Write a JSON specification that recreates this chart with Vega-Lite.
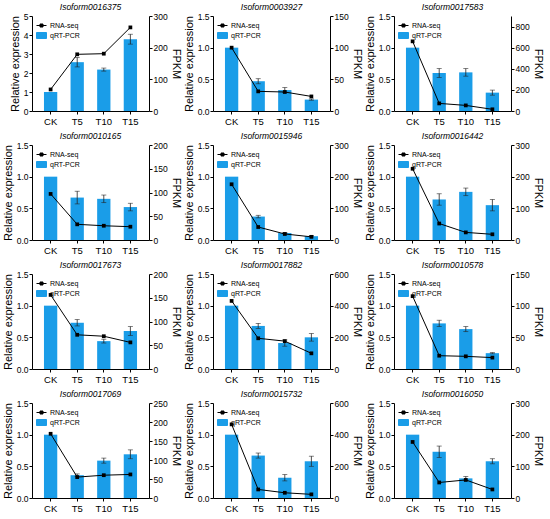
{
"$schema": "https://vega.github.io/schema/vega-lite/v6.json",
"padding": {"left": 2, "top": 2, "right": 0, "bottom": 0},
"data": {"values": [
{"g":"Isoform0016375","t":"CK","rel":1.0,"sd":0,"fpkm":68},
{"g":"Isoform0016375","t":"T5","rel":2.57,"sd":0.25,"fpkm":179},
{"g":"Isoform0016375","t":"T10","rel":2.18,"sd":0.08,"fpkm":181},
{"g":"Isoform0016375","t":"T15","rel":3.78,"sd":0.26,"fpkm":264},
{"g":"Isoform0003927","t":"CK","rel":1.0,"sd":0,"fpkm":100},
{"g":"Isoform0003927","t":"T5","rel":0.47,"sd":0.04,"fpkm":31},
{"g":"Isoform0003927","t":"T10","rel":0.33,"sd":0.04,"fpkm":30},
{"g":"Isoform0003927","t":"T15","rel":0.18,"sd":0.01,"fpkm":23},
{"g":"Isoform0017583","t":"CK","rel":1.0,"sd":0,"fpkm":660},
{"g":"Isoform0017583","t":"T5","rel":0.6,"sd":0.07,"fpkm":72},
{"g":"Isoform0017583","t":"T10","rel":0.61,"sd":0.06,"fpkm":53},
{"g":"Isoform0017583","t":"T15","rel":0.29,"sd":0.04,"fpkm":16},
{"g":"Isoform0010165","t":"CK","rel":1.0,"sd":0,"fpkm":97},
{"g":"Isoform0010165","t":"T5","rel":0.67,"sd":0.1,"fpkm":33},
{"g":"Isoform0010165","t":"T10","rel":0.65,"sd":0.06,"fpkm":30},
{"g":"Isoform0010165","t":"T15","rel":0.52,"sd":0.06,"fpkm":28},
{"g":"Isoform0015946","t":"CK","rel":1.0,"sd":0,"fpkm":176},
{"g":"Isoform0015946","t":"T5","rel":0.37,"sd":0.02,"fpkm":41},
{"g":"Isoform0015946","t":"T10","rel":0.11,"sd":0.01,"fpkm":19},
{"g":"Isoform0015946","t":"T15","rel":0.06,"sd":0.01,"fpkm":10},
{"g":"Isoform0016442","t":"CK","rel":1.0,"sd":0,"fpkm":225},
{"g":"Isoform0016442","t":"T5","rel":0.64,"sd":0.09,"fpkm":52},
{"g":"Isoform0016442","t":"T10","rel":0.76,"sd":0.06,"fpkm":24},
{"g":"Isoform0016442","t":"T15","rel":0.55,"sd":0.09,"fpkm":18},
{"g":"Isoform0017673","t":"CK","rel":1.0,"sd":0,"fpkm":156},
{"g":"Isoform0017673","t":"T5","rel":0.73,"sd":0.05,"fpkm":72},
{"g":"Isoform0017673","t":"T10","rel":0.44,"sd":0.03,"fpkm":69},
{"g":"Isoform0017673","t":"T15","rel":0.6,"sd":0.07,"fpkm":56},
{"g":"Isoform0017882","t":"CK","rel":1.0,"sd":0,"fpkm":430},
{"g":"Isoform0017882","t":"T5","rel":0.68,"sd":0.04,"fpkm":194},
{"g":"Isoform0017882","t":"T10","rel":0.41,"sd":0.05,"fpkm":176},
{"g":"Isoform0017882","t":"T15","rel":0.5,"sd":0.06,"fpkm":99},
{"g":"Isoform0010578","t":"CK","rel":1.0,"sd":0,"fpkm":115},
{"g":"Isoform0010578","t":"T5","rel":0.72,"sd":0.05,"fpkm":21},
{"g":"Isoform0010578","t":"T10","rel":0.63,"sd":0.04,"fpkm":20},
{"g":"Isoform0010578","t":"T15","rel":0.25,"sd":0.01,"fpkm":18},
{"g":"Isoform0017069","t":"CK","rel":1.0,"sd":0,"fpkm":169},
{"g":"Isoform0017069","t":"T5","rel":0.36,"sd":0.02,"fpkm":55},
{"g":"Isoform0017069","t":"T10","rel":0.59,"sd":0.04,"fpkm":60},
{"g":"Isoform0017069","t":"T15","rel":0.69,"sd":0.07,"fpkm":62},
{"g":"Isoform0015732","t":"CK","rel":1.0,"sd":0,"fpkm":465},
{"g":"Isoform0015732","t":"T5","rel":0.67,"sd":0.04,"fpkm":54},
{"g":"Isoform0015732","t":"T10","rel":0.32,"sd":0.05,"fpkm":33},
{"g":"Isoform0015732","t":"T15","rel":0.58,"sd":0.08,"fpkm":23},
{"g":"Isoform0016050","t":"CK","rel":1.0,"sd":0,"fpkm":177},
{"g":"Isoform0016050","t":"T5","rel":0.73,"sd":0.09,"fpkm":49},
{"g":"Isoform0016050","t":"T10","rel":0.31,"sd":0.03,"fpkm":57},
{"g":"Isoform0016050","t":"T15","rel":0.58,"sd":0.04,"fpkm":27}
]},
"columns": 3,
"spacing": {"column": 1, "row": 5},
"resolve": {"scale": {"color": "independent"}, "legend": {"color": "independent"}},
"concat": [
{"title":"Isoform0016375","width":117,"height":95,"transform":[{"filter":"datum.g === 'Isoform0016375'"}],"resolve":{"scale":{"y":"independent"}},
"layer":[
 {"layer":[
  {"mark":{"type":"bar","color":"#1a9de8"},"encoding":{"x":{"field":"t","type":"nominal","sort":["CK","T5","T10","T15"],"scale":{"paddingInner":0.5,"paddingOuter":0.45}},"y":{"field":"rel","type":"quantitative","title":"Relative expression","scale":{"domain":[0,5]},"axis":{"values":[0,1,2,3,4,5],"format":"d"}},"color":{"datum":"qRT-PCR","scale":{"domain":["RNA-seq","qRT-PCR"],"range":["#000000","#1a9de8"]},"legend":{"encode":{"symbols":{"update":{"shape":[{"test":"datum.value === 'RNA-seq'","value":"M-1,0H1M-0.3,-0.3H0.3V0.3H-0.3Z"},{"value":"M-1,-0.6H1V0.6H-1Z"}],"fill":[{"test":"datum.value === 'RNA-seq'","value":"#000000"},{"value":"#1a9de8"}],"stroke":[{"test":"datum.value === 'RNA-seq'","value":"#000000"},{"value":"#1a9de8"}],"strokeWidth":{"value":1}}}}}}}},
  {"transform":[{"filter":"datum.sd > 0"}],"mark":{"type":"errorbar","ticks":{"size":5},"color":"#222","thickness":0.8},"encoding":{"x":{"field":"t","type":"nominal","sort":["CK","T5","T10","T15"]},"y":{"field":"rel","type":"quantitative","title":"Relative expression","scale":{"domain":[0,5]},"axis":{"values":[0,1,2,3,4,5],"format":"d"}},"yError":{"field":"sd"}}}
 ]},
 {"mark":{"type":"line","strokeWidth":1,"point":{"shape":"square","size":14,"filled":true}},"encoding":{"x":{"field":"t","type":"nominal","sort":["CK","T5","T10","T15"]},"y":{"field":"fpkm","type":"quantitative","title":"FPKM","scale":{"domain":[0,300]},"axis":{"orient":"right","values":[0,100,200,300]}},"color":{"datum":"RNA-seq","scale":{"domain":["RNA-seq","qRT-PCR"],"range":["#000000","#1a9de8"]}}}}
]},
{"title":"Isoform0003927","width":117,"height":95,"transform":[{"filter":"datum.g === 'Isoform0003927'"}],"resolve":{"scale":{"y":"independent"}},
"layer":[
 {"layer":[
  {"mark":{"type":"bar","color":"#1a9de8"},"encoding":{"x":{"field":"t","type":"nominal","sort":["CK","T5","T10","T15"],"scale":{"paddingInner":0.5,"paddingOuter":0.45}},"y":{"field":"rel","type":"quantitative","title":"Relative expression","scale":{"domain":[0,1.5]},"axis":{"values":[0,0.5,1,1.5],"format":".1f"}},"color":{"datum":"qRT-PCR","scale":{"domain":["RNA-seq","qRT-PCR"],"range":["#000000","#1a9de8"]},"legend":{"encode":{"symbols":{"update":{"shape":[{"test":"datum.value === 'RNA-seq'","value":"M-1,0H1M-0.3,-0.3H0.3V0.3H-0.3Z"},{"value":"M-1,-0.6H1V0.6H-1Z"}],"fill":[{"test":"datum.value === 'RNA-seq'","value":"#000000"},{"value":"#1a9de8"}],"stroke":[{"test":"datum.value === 'RNA-seq'","value":"#000000"},{"value":"#1a9de8"}],"strokeWidth":{"value":1}}}}}}}},
  {"transform":[{"filter":"datum.sd > 0"}],"mark":{"type":"errorbar","ticks":{"size":5},"color":"#222","thickness":0.8},"encoding":{"x":{"field":"t","type":"nominal","sort":["CK","T5","T10","T15"]},"y":{"field":"rel","type":"quantitative","title":"Relative expression","scale":{"domain":[0,1.5]},"axis":{"values":[0,0.5,1,1.5],"format":".1f"}},"yError":{"field":"sd"}}}
 ]},
 {"mark":{"type":"line","strokeWidth":1,"point":{"shape":"square","size":14,"filled":true}},"encoding":{"x":{"field":"t","type":"nominal","sort":["CK","T5","T10","T15"]},"y":{"field":"fpkm","type":"quantitative","title":"FPKM","scale":{"domain":[0,150]},"axis":{"orient":"right","values":[0,50,100,150]}},"color":{"datum":"RNA-seq","scale":{"domain":["RNA-seq","qRT-PCR"],"range":["#000000","#1a9de8"]}}}}
]},
{"title":"Isoform0017583","width":117,"height":95,"transform":[{"filter":"datum.g === 'Isoform0017583'"}],"resolve":{"scale":{"y":"independent"}},
"layer":[
 {"layer":[
  {"mark":{"type":"bar","color":"#1a9de8"},"encoding":{"x":{"field":"t","type":"nominal","sort":["CK","T5","T10","T15"],"scale":{"paddingInner":0.5,"paddingOuter":0.45}},"y":{"field":"rel","type":"quantitative","title":"Relative expression","scale":{"domain":[0,1.5]},"axis":{"values":[0,0.5,1,1.5],"format":".1f"}},"color":{"datum":"qRT-PCR","scale":{"domain":["RNA-seq","qRT-PCR"],"range":["#000000","#1a9de8"]},"legend":{"encode":{"symbols":{"update":{"shape":[{"test":"datum.value === 'RNA-seq'","value":"M-1,0H1M-0.3,-0.3H0.3V0.3H-0.3Z"},{"value":"M-1,-0.6H1V0.6H-1Z"}],"fill":[{"test":"datum.value === 'RNA-seq'","value":"#000000"},{"value":"#1a9de8"}],"stroke":[{"test":"datum.value === 'RNA-seq'","value":"#000000"},{"value":"#1a9de8"}],"strokeWidth":{"value":1}}}}}}}},
  {"transform":[{"filter":"datum.sd > 0"}],"mark":{"type":"errorbar","ticks":{"size":5},"color":"#222","thickness":0.8},"encoding":{"x":{"field":"t","type":"nominal","sort":["CK","T5","T10","T15"]},"y":{"field":"rel","type":"quantitative","title":"Relative expression","scale":{"domain":[0,1.5]},"axis":{"values":[0,0.5,1,1.5],"format":".1f"}},"yError":{"field":"sd"}}}
 ]},
 {"mark":{"type":"line","strokeWidth":1,"point":{"shape":"square","size":14,"filled":true}},"encoding":{"x":{"field":"t","type":"nominal","sort":["CK","T5","T10","T15"]},"y":{"field":"fpkm","type":"quantitative","title":"FPKM","scale":{"domain":[0,900]},"axis":{"orient":"right","values":[0,200,400,600,800]}},"color":{"datum":"RNA-seq","scale":{"domain":["RNA-seq","qRT-PCR"],"range":["#000000","#1a9de8"]}}}}
]},
{"title":"Isoform0010165","width":117,"height":95,"transform":[{"filter":"datum.g === 'Isoform0010165'"}],"resolve":{"scale":{"y":"independent"}},
"layer":[
 {"layer":[
  {"mark":{"type":"bar","color":"#1a9de8"},"encoding":{"x":{"field":"t","type":"nominal","sort":["CK","T5","T10","T15"],"scale":{"paddingInner":0.5,"paddingOuter":0.45}},"y":{"field":"rel","type":"quantitative","title":"Relative expression","scale":{"domain":[0,1.5]},"axis":{"values":[0,0.5,1,1.5],"format":".1f"}},"color":{"datum":"qRT-PCR","scale":{"domain":["RNA-seq","qRT-PCR"],"range":["#000000","#1a9de8"]},"legend":{"encode":{"symbols":{"update":{"shape":[{"test":"datum.value === 'RNA-seq'","value":"M-1,0H1M-0.3,-0.3H0.3V0.3H-0.3Z"},{"value":"M-1,-0.6H1V0.6H-1Z"}],"fill":[{"test":"datum.value === 'RNA-seq'","value":"#000000"},{"value":"#1a9de8"}],"stroke":[{"test":"datum.value === 'RNA-seq'","value":"#000000"},{"value":"#1a9de8"}],"strokeWidth":{"value":1}}}}}}}},
  {"transform":[{"filter":"datum.sd > 0"}],"mark":{"type":"errorbar","ticks":{"size":5},"color":"#222","thickness":0.8},"encoding":{"x":{"field":"t","type":"nominal","sort":["CK","T5","T10","T15"]},"y":{"field":"rel","type":"quantitative","title":"Relative expression","scale":{"domain":[0,1.5]},"axis":{"values":[0,0.5,1,1.5],"format":".1f"}},"yError":{"field":"sd"}}}
 ]},
 {"mark":{"type":"line","strokeWidth":1,"point":{"shape":"square","size":14,"filled":true}},"encoding":{"x":{"field":"t","type":"nominal","sort":["CK","T5","T10","T15"]},"y":{"field":"fpkm","type":"quantitative","title":"FPKM","scale":{"domain":[0,200]},"axis":{"orient":"right","values":[0,50,100,150,200]}},"color":{"datum":"RNA-seq","scale":{"domain":["RNA-seq","qRT-PCR"],"range":["#000000","#1a9de8"]}}}}
]},
{"title":"Isoform0015946","width":117,"height":95,"transform":[{"filter":"datum.g === 'Isoform0015946'"}],"resolve":{"scale":{"y":"independent"}},
"layer":[
 {"layer":[
  {"mark":{"type":"bar","color":"#1a9de8"},"encoding":{"x":{"field":"t","type":"nominal","sort":["CK","T5","T10","T15"],"scale":{"paddingInner":0.5,"paddingOuter":0.45}},"y":{"field":"rel","type":"quantitative","title":"Relative expression","scale":{"domain":[0,1.5]},"axis":{"values":[0,0.5,1,1.5],"format":".1f"}},"color":{"datum":"qRT-PCR","scale":{"domain":["RNA-seq","qRT-PCR"],"range":["#000000","#1a9de8"]},"legend":{"encode":{"symbols":{"update":{"shape":[{"test":"datum.value === 'RNA-seq'","value":"M-1,0H1M-0.3,-0.3H0.3V0.3H-0.3Z"},{"value":"M-1,-0.6H1V0.6H-1Z"}],"fill":[{"test":"datum.value === 'RNA-seq'","value":"#000000"},{"value":"#1a9de8"}],"stroke":[{"test":"datum.value === 'RNA-seq'","value":"#000000"},{"value":"#1a9de8"}],"strokeWidth":{"value":1}}}}}}}},
  {"transform":[{"filter":"datum.sd > 0"}],"mark":{"type":"errorbar","ticks":{"size":5},"color":"#222","thickness":0.8},"encoding":{"x":{"field":"t","type":"nominal","sort":["CK","T5","T10","T15"]},"y":{"field":"rel","type":"quantitative","title":"Relative expression","scale":{"domain":[0,1.5]},"axis":{"values":[0,0.5,1,1.5],"format":".1f"}},"yError":{"field":"sd"}}}
 ]},
 {"mark":{"type":"line","strokeWidth":1,"point":{"shape":"square","size":14,"filled":true}},"encoding":{"x":{"field":"t","type":"nominal","sort":["CK","T5","T10","T15"]},"y":{"field":"fpkm","type":"quantitative","title":"FPKM","scale":{"domain":[0,300]},"axis":{"orient":"right","values":[0,100,200,300]}},"color":{"datum":"RNA-seq","scale":{"domain":["RNA-seq","qRT-PCR"],"range":["#000000","#1a9de8"]}}}}
]},
{"title":"Isoform0016442","width":117,"height":95,"transform":[{"filter":"datum.g === 'Isoform0016442'"}],"resolve":{"scale":{"y":"independent"}},
"layer":[
 {"layer":[
  {"mark":{"type":"bar","color":"#1a9de8"},"encoding":{"x":{"field":"t","type":"nominal","sort":["CK","T5","T10","T15"],"scale":{"paddingInner":0.5,"paddingOuter":0.45}},"y":{"field":"rel","type":"quantitative","title":"Relative expression","scale":{"domain":[0,1.5]},"axis":{"values":[0,0.5,1,1.5],"format":".1f"}},"color":{"datum":"qRT-PCR","scale":{"domain":["RNA-seq","qRT-PCR"],"range":["#000000","#1a9de8"]},"legend":{"encode":{"symbols":{"update":{"shape":[{"test":"datum.value === 'RNA-seq'","value":"M-1,0H1M-0.3,-0.3H0.3V0.3H-0.3Z"},{"value":"M-1,-0.6H1V0.6H-1Z"}],"fill":[{"test":"datum.value === 'RNA-seq'","value":"#000000"},{"value":"#1a9de8"}],"stroke":[{"test":"datum.value === 'RNA-seq'","value":"#000000"},{"value":"#1a9de8"}],"strokeWidth":{"value":1}}}}}}}},
  {"transform":[{"filter":"datum.sd > 0"}],"mark":{"type":"errorbar","ticks":{"size":5},"color":"#222","thickness":0.8},"encoding":{"x":{"field":"t","type":"nominal","sort":["CK","T5","T10","T15"]},"y":{"field":"rel","type":"quantitative","title":"Relative expression","scale":{"domain":[0,1.5]},"axis":{"values":[0,0.5,1,1.5],"format":".1f"}},"yError":{"field":"sd"}}}
 ]},
 {"mark":{"type":"line","strokeWidth":1,"point":{"shape":"square","size":14,"filled":true}},"encoding":{"x":{"field":"t","type":"nominal","sort":["CK","T5","T10","T15"]},"y":{"field":"fpkm","type":"quantitative","title":"FPKM","scale":{"domain":[0,300]},"axis":{"orient":"right","values":[0,100,200,300]}},"color":{"datum":"RNA-seq","scale":{"domain":["RNA-seq","qRT-PCR"],"range":["#000000","#1a9de8"]}}}}
]},
{"title":"Isoform0017673","width":117,"height":95,"transform":[{"filter":"datum.g === 'Isoform0017673'"}],"resolve":{"scale":{"y":"independent"}},
"layer":[
 {"layer":[
  {"mark":{"type":"bar","color":"#1a9de8"},"encoding":{"x":{"field":"t","type":"nominal","sort":["CK","T5","T10","T15"],"scale":{"paddingInner":0.5,"paddingOuter":0.45}},"y":{"field":"rel","type":"quantitative","title":"Relative expression","scale":{"domain":[0,1.5]},"axis":{"values":[0,0.5,1,1.5],"format":".1f"}},"color":{"datum":"qRT-PCR","scale":{"domain":["RNA-seq","qRT-PCR"],"range":["#000000","#1a9de8"]},"legend":{"encode":{"symbols":{"update":{"shape":[{"test":"datum.value === 'RNA-seq'","value":"M-1,0H1M-0.3,-0.3H0.3V0.3H-0.3Z"},{"value":"M-1,-0.6H1V0.6H-1Z"}],"fill":[{"test":"datum.value === 'RNA-seq'","value":"#000000"},{"value":"#1a9de8"}],"stroke":[{"test":"datum.value === 'RNA-seq'","value":"#000000"},{"value":"#1a9de8"}],"strokeWidth":{"value":1}}}}}}}},
  {"transform":[{"filter":"datum.sd > 0"}],"mark":{"type":"errorbar","ticks":{"size":5},"color":"#222","thickness":0.8},"encoding":{"x":{"field":"t","type":"nominal","sort":["CK","T5","T10","T15"]},"y":{"field":"rel","type":"quantitative","title":"Relative expression","scale":{"domain":[0,1.5]},"axis":{"values":[0,0.5,1,1.5],"format":".1f"}},"yError":{"field":"sd"}}}
 ]},
 {"mark":{"type":"line","strokeWidth":1,"point":{"shape":"square","size":14,"filled":true}},"encoding":{"x":{"field":"t","type":"nominal","sort":["CK","T5","T10","T15"]},"y":{"field":"fpkm","type":"quantitative","title":"FPKM","scale":{"domain":[0,200]},"axis":{"orient":"right","values":[0,50,100,150,200]}},"color":{"datum":"RNA-seq","scale":{"domain":["RNA-seq","qRT-PCR"],"range":["#000000","#1a9de8"]}}}}
]},
{"title":"Isoform0017882","width":117,"height":95,"transform":[{"filter":"datum.g === 'Isoform0017882'"}],"resolve":{"scale":{"y":"independent"}},
"layer":[
 {"layer":[
  {"mark":{"type":"bar","color":"#1a9de8"},"encoding":{"x":{"field":"t","type":"nominal","sort":["CK","T5","T10","T15"],"scale":{"paddingInner":0.5,"paddingOuter":0.45}},"y":{"field":"rel","type":"quantitative","title":"Relative expression","scale":{"domain":[0,1.5]},"axis":{"values":[0,0.5,1,1.5],"format":".1f"}},"color":{"datum":"qRT-PCR","scale":{"domain":["RNA-seq","qRT-PCR"],"range":["#000000","#1a9de8"]},"legend":{"encode":{"symbols":{"update":{"shape":[{"test":"datum.value === 'RNA-seq'","value":"M-1,0H1M-0.3,-0.3H0.3V0.3H-0.3Z"},{"value":"M-1,-0.6H1V0.6H-1Z"}],"fill":[{"test":"datum.value === 'RNA-seq'","value":"#000000"},{"value":"#1a9de8"}],"stroke":[{"test":"datum.value === 'RNA-seq'","value":"#000000"},{"value":"#1a9de8"}],"strokeWidth":{"value":1}}}}}}}},
  {"transform":[{"filter":"datum.sd > 0"}],"mark":{"type":"errorbar","ticks":{"size":5},"color":"#222","thickness":0.8},"encoding":{"x":{"field":"t","type":"nominal","sort":["CK","T5","T10","T15"]},"y":{"field":"rel","type":"quantitative","title":"Relative expression","scale":{"domain":[0,1.5]},"axis":{"values":[0,0.5,1,1.5],"format":".1f"}},"yError":{"field":"sd"}}}
 ]},
 {"mark":{"type":"line","strokeWidth":1,"point":{"shape":"square","size":14,"filled":true}},"encoding":{"x":{"field":"t","type":"nominal","sort":["CK","T5","T10","T15"]},"y":{"field":"fpkm","type":"quantitative","title":"FPKM","scale":{"domain":[0,600]},"axis":{"orient":"right","values":[0,200,400,600]}},"color":{"datum":"RNA-seq","scale":{"domain":["RNA-seq","qRT-PCR"],"range":["#000000","#1a9de8"]}}}}
]},
{"title":"Isoform0010578","width":117,"height":95,"transform":[{"filter":"datum.g === 'Isoform0010578'"}],"resolve":{"scale":{"y":"independent"}},
"layer":[
 {"layer":[
  {"mark":{"type":"bar","color":"#1a9de8"},"encoding":{"x":{"field":"t","type":"nominal","sort":["CK","T5","T10","T15"],"scale":{"paddingInner":0.5,"paddingOuter":0.45}},"y":{"field":"rel","type":"quantitative","title":"Relative expression","scale":{"domain":[0,1.5]},"axis":{"values":[0,0.5,1,1.5],"format":".1f"}},"color":{"datum":"qRT-PCR","scale":{"domain":["RNA-seq","qRT-PCR"],"range":["#000000","#1a9de8"]},"legend":{"encode":{"symbols":{"update":{"shape":[{"test":"datum.value === 'RNA-seq'","value":"M-1,0H1M-0.3,-0.3H0.3V0.3H-0.3Z"},{"value":"M-1,-0.6H1V0.6H-1Z"}],"fill":[{"test":"datum.value === 'RNA-seq'","value":"#000000"},{"value":"#1a9de8"}],"stroke":[{"test":"datum.value === 'RNA-seq'","value":"#000000"},{"value":"#1a9de8"}],"strokeWidth":{"value":1}}}}}}}},
  {"transform":[{"filter":"datum.sd > 0"}],"mark":{"type":"errorbar","ticks":{"size":5},"color":"#222","thickness":0.8},"encoding":{"x":{"field":"t","type":"nominal","sort":["CK","T5","T10","T15"]},"y":{"field":"rel","type":"quantitative","title":"Relative expression","scale":{"domain":[0,1.5]},"axis":{"values":[0,0.5,1,1.5],"format":".1f"}},"yError":{"field":"sd"}}}
 ]},
 {"mark":{"type":"line","strokeWidth":1,"point":{"shape":"square","size":14,"filled":true}},"encoding":{"x":{"field":"t","type":"nominal","sort":["CK","T5","T10","T15"]},"y":{"field":"fpkm","type":"quantitative","title":"FPKM","scale":{"domain":[0,150]},"axis":{"orient":"right","values":[0,50,100,150]}},"color":{"datum":"RNA-seq","scale":{"domain":["RNA-seq","qRT-PCR"],"range":["#000000","#1a9de8"]}}}}
]},
{"title":"Isoform0017069","width":117,"height":95,"transform":[{"filter":"datum.g === 'Isoform0017069'"}],"resolve":{"scale":{"y":"independent"}},
"layer":[
 {"layer":[
  {"mark":{"type":"bar","color":"#1a9de8"},"encoding":{"x":{"field":"t","type":"nominal","sort":["CK","T5","T10","T15"],"scale":{"paddingInner":0.5,"paddingOuter":0.45}},"y":{"field":"rel","type":"quantitative","title":"Relative expression","scale":{"domain":[0,1.5]},"axis":{"values":[0,0.5,1,1.5],"format":".1f"}},"color":{"datum":"qRT-PCR","scale":{"domain":["RNA-seq","qRT-PCR"],"range":["#000000","#1a9de8"]},"legend":{"encode":{"symbols":{"update":{"shape":[{"test":"datum.value === 'RNA-seq'","value":"M-1,0H1M-0.3,-0.3H0.3V0.3H-0.3Z"},{"value":"M-1,-0.6H1V0.6H-1Z"}],"fill":[{"test":"datum.value === 'RNA-seq'","value":"#000000"},{"value":"#1a9de8"}],"stroke":[{"test":"datum.value === 'RNA-seq'","value":"#000000"},{"value":"#1a9de8"}],"strokeWidth":{"value":1}}}}}}}},
  {"transform":[{"filter":"datum.sd > 0"}],"mark":{"type":"errorbar","ticks":{"size":5},"color":"#222","thickness":0.8},"encoding":{"x":{"field":"t","type":"nominal","sort":["CK","T5","T10","T15"]},"y":{"field":"rel","type":"quantitative","title":"Relative expression","scale":{"domain":[0,1.5]},"axis":{"values":[0,0.5,1,1.5],"format":".1f"}},"yError":{"field":"sd"}}}
 ]},
 {"mark":{"type":"line","strokeWidth":1,"point":{"shape":"square","size":14,"filled":true}},"encoding":{"x":{"field":"t","type":"nominal","sort":["CK","T5","T10","T15"]},"y":{"field":"fpkm","type":"quantitative","title":"FPKM","scale":{"domain":[0,250]},"axis":{"orient":"right","values":[0,50,100,150,200,250]}},"color":{"datum":"RNA-seq","scale":{"domain":["RNA-seq","qRT-PCR"],"range":["#000000","#1a9de8"]}}}}
]},
{"title":"Isoform0015732","width":117,"height":95,"transform":[{"filter":"datum.g === 'Isoform0015732'"}],"resolve":{"scale":{"y":"independent"}},
"layer":[
 {"layer":[
  {"mark":{"type":"bar","color":"#1a9de8"},"encoding":{"x":{"field":"t","type":"nominal","sort":["CK","T5","T10","T15"],"scale":{"paddingInner":0.5,"paddingOuter":0.45}},"y":{"field":"rel","type":"quantitative","title":"Relative expression","scale":{"domain":[0,1.5]},"axis":{"values":[0,0.5,1,1.5],"format":".1f"}},"color":{"datum":"qRT-PCR","scale":{"domain":["RNA-seq","qRT-PCR"],"range":["#000000","#1a9de8"]},"legend":{"encode":{"symbols":{"update":{"shape":[{"test":"datum.value === 'RNA-seq'","value":"M-1,0H1M-0.3,-0.3H0.3V0.3H-0.3Z"},{"value":"M-1,-0.6H1V0.6H-1Z"}],"fill":[{"test":"datum.value === 'RNA-seq'","value":"#000000"},{"value":"#1a9de8"}],"stroke":[{"test":"datum.value === 'RNA-seq'","value":"#000000"},{"value":"#1a9de8"}],"strokeWidth":{"value":1}}}}}}}},
  {"transform":[{"filter":"datum.sd > 0"}],"mark":{"type":"errorbar","ticks":{"size":5},"color":"#222","thickness":0.8},"encoding":{"x":{"field":"t","type":"nominal","sort":["CK","T5","T10","T15"]},"y":{"field":"rel","type":"quantitative","title":"Relative expression","scale":{"domain":[0,1.5]},"axis":{"values":[0,0.5,1,1.5],"format":".1f"}},"yError":{"field":"sd"}}}
 ]},
 {"mark":{"type":"line","strokeWidth":1,"point":{"shape":"square","size":14,"filled":true}},"encoding":{"x":{"field":"t","type":"nominal","sort":["CK","T5","T10","T15"]},"y":{"field":"fpkm","type":"quantitative","title":"FPKM","scale":{"domain":[0,600]},"axis":{"orient":"right","values":[0,200,400,600]}},"color":{"datum":"RNA-seq","scale":{"domain":["RNA-seq","qRT-PCR"],"range":["#000000","#1a9de8"]}}}}
]},
{"title":"Isoform0016050","width":117,"height":95,"transform":[{"filter":"datum.g === 'Isoform0016050'"}],"resolve":{"scale":{"y":"independent"}},
"layer":[
 {"layer":[
  {"mark":{"type":"bar","color":"#1a9de8"},"encoding":{"x":{"field":"t","type":"nominal","sort":["CK","T5","T10","T15"],"scale":{"paddingInner":0.5,"paddingOuter":0.45}},"y":{"field":"rel","type":"quantitative","title":"Relative expression","scale":{"domain":[0,1.5]},"axis":{"values":[0,0.5,1,1.5],"format":".1f"}},"color":{"datum":"qRT-PCR","scale":{"domain":["RNA-seq","qRT-PCR"],"range":["#000000","#1a9de8"]},"legend":{"encode":{"symbols":{"update":{"shape":[{"test":"datum.value === 'RNA-seq'","value":"M-1,0H1M-0.3,-0.3H0.3V0.3H-0.3Z"},{"value":"M-1,-0.6H1V0.6H-1Z"}],"fill":[{"test":"datum.value === 'RNA-seq'","value":"#000000"},{"value":"#1a9de8"}],"stroke":[{"test":"datum.value === 'RNA-seq'","value":"#000000"},{"value":"#1a9de8"}],"strokeWidth":{"value":1}}}}}}}},
  {"transform":[{"filter":"datum.sd > 0"}],"mark":{"type":"errorbar","ticks":{"size":5},"color":"#222","thickness":0.8},"encoding":{"x":{"field":"t","type":"nominal","sort":["CK","T5","T10","T15"]},"y":{"field":"rel","type":"quantitative","title":"Relative expression","scale":{"domain":[0,1.5]},"axis":{"values":[0,0.5,1,1.5],"format":".1f"}},"yError":{"field":"sd"}}}
 ]},
 {"mark":{"type":"line","strokeWidth":1,"point":{"shape":"square","size":14,"filled":true}},"encoding":{"x":{"field":"t","type":"nominal","sort":["CK","T5","T10","T15"]},"y":{"field":"fpkm","type":"quantitative","title":"FPKM","scale":{"domain":[0,300]},"axis":{"orient":"right","values":[0,100,200,300]}},"color":{"datum":"RNA-seq","scale":{"domain":["RNA-seq","qRT-PCR"],"range":["#000000","#1a9de8"]}}}}
]}
],
"config": {
 "font": "Liberation Sans",
 "view": {"stroke": null},
 "axis": {"grid": false, "domainColor": "#000", "tickColor": "#000", "labelColor": "#000", "titleColor": "#000", "labelFontSize": 8.5, "titleFontSize": 11, "titleFontWeight": "normal", "tickSize": 3, "labelPadding": 1, "titlePadding": 3, "labelOverlap": false},
 "axisX": {"title": null, "labelAngle": 0, "labelFontSize": 9.5, "labelPadding": 2},
 "title": {"fontSize": 8.5, "fontStyle": "italic", "fontWeight": "normal", "offset": 1, "color": "#000"},
 "legend": {"orient": "top-left", "offset": 4, "title": null, "labelFontSize": 7, "symbolSize": 100, "rowPadding": 1, "padding": 0, "labelOffset": 3, "labelColor": "#000"}
}
}
